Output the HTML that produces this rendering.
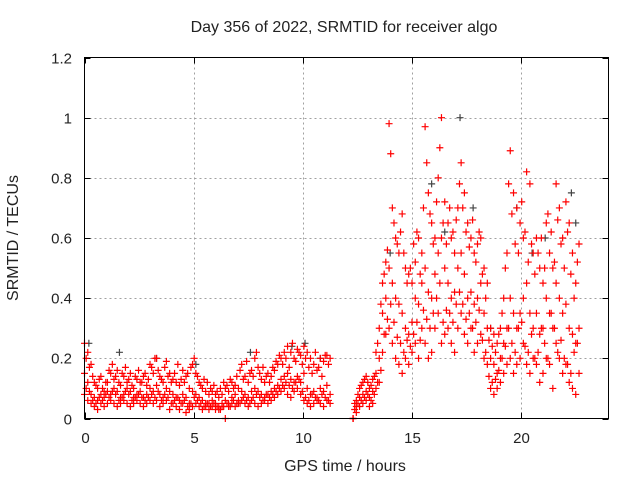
<!DOCTYPE html>
<html><head><meta charset="utf-8"><style>
body{margin:0;background:#fff}
svg{display:block}
text{font-family:"Liberation Sans",sans-serif;font-size:15px;fill:#222}
.big{font-size:16px}
</style></head><body>
<svg id="chart" width="640" height="480">
<text class="big" x="344" y="32" text-anchor="middle">Day 356 of 2022, SRMTID for receiver algo</text>
<text class="big" x="345" y="471" text-anchor="middle">GPS time / hours</text>
<text class="big" transform="translate(18,238) rotate(-90)" text-anchor="middle">SRMTID / TECUs</text>
<g id="grid"></g>
<g id="ticks"></g>
<g id="gray"></g>
<g id="red"></g>
<rect x="84.5" y="57.5" width="524" height="361" fill="none" stroke="#000" stroke-width="1"/>
</svg>
<script>
const xTicks=[0,5,10,15,20];
const yTicks=[0,0.2,0.4,0.6,0.8,1,1.2];
const yTickLabels=["0","0.2","0.4","0.6","0.8","1","1.2"];
const hours=[0,0.15,0.3,0.45,0.6,0.75,0.9,1.05,1.2,1.35,1.5,1.65,1.8,1.95,2.1,2.25,2.4,2.55,2.7,2.85,3,3.15,3.3,3.45,3.6,3.75,3.9,4.05,4.2,4.35,4.5,4.65,4.8,4.95,5.1,5.25,5.4,5.55,5.7,5.85,6,6.15,6.3,6.45,6.6,6.75,6.9,7.05,7.2,7.35,7.5,7.65,7.8,7.95,8.1,8.25,8.4,8.55,8.7,8.85,9,9.15,9.3,9.45,9.6,9.75,9.9,10.05,10.2,10.35,10.5,10.65,10.8,10.95,11.1,11.25,
12.3,12.45,12.6,12.75,12.9,13.05,13.2,13.35,13.5,13.65,13.8,13.95,14.1,14.25,14.4,14.55,14.7,14.85,15,15.15,15.3,15.45,15.6,15.75,15.9,16.05,16.2,16.35,16.5,16.65,16.8,16.95,17.1,17.25,17.4,17.55,17.7,17.85,18,18.15,18.3,18.45,18.6,18.75,18.9,19.05,19.2,19.35,19.5,19.65,19.8,19.95,20.1,20.25,20.4,20.55,20.7,20.85,21,21.15,21.3,21.45,21.6,21.75,21.9,22.05,22.2,22.35,22.5,22.65];
const redHigh=[0.25,0.22,0.18,0.12,0.10,0.14,0.09,0.12,0.15,0.13,0.16,0.11,0.14,0.12,0.15,0.10,0.13,0.12,0.14,0.11,0.18,0.15,0.20,0.14,0.12,0.19,0.15,0.13,0.12,0.11,0.16,0.14,0.10,0.18,0.15,0.12,0.10,0.09,0.08,0.09,0.08,0.07,0.08,0.10,0.09,0.12,0.11,0.10,0.18,0.14,0.12,0.16,0.20,0.17,0.13,0.12,0.15,0.14,0.16,0.18,0.20,0.22,0.24,0.22,0.20,0.23,0.21,0.24,0.22,0.20,0.18,0.16,0.20,0.19,0.21,0.20,
0.00,0.06,0.10,0.12,0.14,0.10,0.13,0.22,0.30,0.45,0.52,0.98,0.70,0.60,0.55,0.68,0.50,0.48,0.45,0.52,0.60,0.55,0.97,0.75,0.65,0.60,0.80,1.00,0.72,0.65,0.60,0.55,0.70,0.85,0.75,0.65,0.60,0.55,0.58,0.60,0.50,0.45,0.30,0.28,0.25,0.30,0.40,0.55,0.89,0.75,0.70,0.65,0.60,0.82,0.78,0.55,0.60,0.50,0.45,0.65,0.55,0.50,0.78,0.70,0.60,0.72,0.65,0.55,0.45,0.58];
const redMid=[0.15,0.12,0.08,0.07,0.06,0.08,0.07,0.09,0.08,0.10,0.09,0.07,0.08,0.10,0.09,0.07,0.08,0.09,0.07,0.08,0.10,0.09,0.11,0.08,0.07,0.10,0.09,0.08,0.07,0.06,0.08,0.07,0.05,0.09,0.08,0.07,0.06,0.05,0.05,0.06,0.05,0.04,0.05,0.06,0.05,0.07,0.08,0.06,0.09,0.08,0.07,0.09,0.10,0.09,0.08,0.07,0.08,0.09,0.10,0.11,0.13,0.14,0.15,0.13,0.12,0.14,0.12,0.15,0.10,0.08,0.09,0.07,0.10,0.09,0.11,0.08,
0.00,0.04,0.07,0.08,0.09,0.07,0.09,0.15,0.20,0.35,0.40,0.50,0.45,0.40,0.38,0.35,0.30,0.28,0.32,0.40,0.38,0.45,0.50,0.42,0.40,0.48,0.55,0.60,0.50,0.45,0.40,0.42,0.50,0.55,0.48,0.40,0.42,0.38,0.40,0.45,0.35,0.30,0.20,0.18,0.15,0.20,0.25,0.30,0.40,0.35,0.30,0.35,0.40,0.45,0.35,0.30,0.35,0.28,0.30,0.40,0.35,0.30,0.45,0.40,0.35,0.38,0.30,0.28,0.25,0.30];
const redLow=[0.08,0.06,0.05,0.04,0.03,0.05,0.04,0.05,0.06,0.05,0.04,0.05,0.06,0.05,0.04,0.05,0.06,0.05,0.04,0.05,0.06,0.05,0.06,0.04,0.05,0.06,0.03,0.05,0.04,0.03,0.05,0.02,0.03,0.04,0.05,0.04,0.03,0.04,0.03,0.04,0.03,0.03,0.04,0.00,0.04,0.05,0.04,0.05,0.06,0.05,0.04,0.06,0.05,0.04,0.05,0.06,0.05,0.06,0.07,0.08,0.09,0.10,0.08,0.07,0.09,0.10,0.08,0.06,0.05,0.04,0.05,0.06,0.05,0.04,0.06,0.05,
0.00,0.02,0.04,0.05,0.06,0.04,0.05,0.10,0.12,0.22,0.28,0.30,0.25,0.20,0.18,0.15,0.20,0.18,0.22,0.25,0.20,0.30,0.25,0.20,0.22,0.30,0.35,0.25,0.28,0.30,0.25,0.22,0.30,0.35,0.28,0.25,0.30,0.22,0.25,0.28,0.20,0.18,0.10,0.08,0.10,0.12,0.15,0.18,0.20,0.15,0.18,0.20,0.25,0.18,0.15,0.20,0.18,0.12,0.15,0.20,0.18,0.10,0.25,0.20,0.15,0.18,0.12,0.10,0.08,0.15];
const hours2=[0.075,0.225,0.375,0.525,0.675,0.825,0.975,1.125,1.275,1.425,1.575,1.725,1.875,2.025,2.175,2.325,2.475,2.625,2.775,2.925,3.075,3.225,3.375,3.525,3.675,3.825,3.975,4.125,4.275,4.425,4.575,4.725,4.875,5.025,5.175,5.325,5.475,5.625,5.775,5.925,6.075,6.225,6.375,6.525,6.675,6.825,6.975,7.125,7.275,7.425,7.575,7.725,7.875,8.025,8.175,8.325,8.475,8.625,8.775,8.925,9.075,9.225,9.375,9.525,9.675,9.825,9.975,10.125,10.275,10.425,10.575,10.725,10.875,11.025,11.175,
12.375,12.525,12.675,12.825,12.975,13.125,13.275,13.425,13.575,13.725,13.875,14.025,14.175,14.325,14.475,14.625,14.775,14.925,15.075,15.225,15.375,15.525,15.675,15.825,15.975,16.125,16.275,16.425,16.575,16.725,16.875,17.025,17.175,17.325,17.475,17.625,17.775,17.925,18.075,18.225,18.375,18.525,18.675,18.825,18.975,19.125,19.275,19.425,19.575,19.725,19.875,20.025,20.175,20.325,20.475,20.625,20.775,20.925,21.075,21.225,21.375,21.525,21.675,21.825,21.975,22.125,22.275,22.425,22.575];
const redUpper2=[0.20,0.17,0.14,0.11,0.13,0.10,0.12,0.16,0.18,0.14,0.12,0.15,0.17,0.13,0.11,0.14,0.16,0.12,0.15,0.13,0.17,0.20,0.16,0.13,0.17,0.14,0.12,0.15,0.18,0.13,0.12,0.15,0.17,0.20,0.14,0.11,0.13,0.12,0.10,0.11,0.09,0.10,0.12,0.11,0.13,0.10,0.14,0.16,0.13,0.19,0.15,0.14,0.22,0.15,0.17,0.14,0.12,0.17,0.19,0.21,0.18,0.20,0.17,0.25,0.19,0.22,0.18,0.20,0.17,0.15,0.22,0.17,0.14,0.21,0.18,
0.05,0.08,0.11,0.13,0.12,0.11,0.14,0.25,0.38,0.48,0.56,0.88,0.65,0.58,0.62,0.55,0.45,0.50,0.58,0.62,0.48,0.70,0.85,0.68,0.58,0.72,0.90,0.65,0.58,0.70,0.62,0.66,0.78,0.70,0.62,0.57,0.66,0.52,0.62,0.48,0.40,0.26,0.24,0.22,0.28,0.35,0.50,0.78,0.68,0.58,0.55,0.72,0.62,0.52,0.58,0.48,0.55,0.60,0.50,0.68,0.62,0.52,0.66,0.58,0.50,0.62,0.48,0.40,0.52];
const redLower2=[0.10,0.09,0.06,0.05,0.07,0.06,0.08,0.07,0.09,0.08,0.06,0.07,0.09,0.08,0.06,0.07,0.08,0.07,0.06,0.07,0.08,0.07,0.09,0.06,0.08,0.07,0.05,0.06,0.07,0.05,0.06,0.04,0.05,0.07,0.06,0.05,0.04,0.05,0.04,0.05,0.04,0.03,0.04,0.05,0.04,0.06,0.05,0.05,0.07,0.06,0.05,0.07,0.08,0.07,0.06,0.08,0.07,0.08,0.09,0.10,0.11,0.12,0.11,0.10,0.12,0.13,0.09,0.07,0.06,0.08,0.07,0.06,0.08,0.07,0.06,
0.03,0.05,0.06,0.07,0.08,0.06,0.08,0.12,0.16,0.28,0.33,0.38,0.32,0.27,0.25,0.22,0.26,0.24,0.28,0.32,0.26,0.36,0.33,0.30,0.35,0.40,0.45,0.32,0.36,0.35,0.32,0.38,0.42,0.38,0.33,0.35,0.30,0.32,0.36,0.26,0.22,0.14,0.12,0.13,0.16,0.20,0.24,0.30,0.25,0.22,0.30,0.32,0.24,0.22,0.28,0.20,0.22,0.30,0.25,0.20,0.35,0.30,0.22,0.26,0.20,0.18,0.15,0.22,0.25];
const grayHours=[0.2,1.6,3.3,5.1,7.6,9.5,10.1,10.8,14.0,15.9,16.5,17.2,17.8,18.6,19.8,20.5,21.1,22.3,22.5];
const grayVals=[0.25,0.22,0.20,0.18,0.22,0.24,0.25,0.20,0.55,0.78,0.62,1.00,0.70,0.30,0.70,0.55,0.60,0.75,0.65];
const NS="http://www.w3.org/2000/svg";
const X0=84.5,X1=608.5,Y0=418.5,Y1=57.5;
const xs=h=>X0+(X1-X0)*h/24;
const ys=v=>Y0-(Y0-Y1)*v/1.2;
function mk(tag,attrs,parent){const e=document.createElementNS(NS,tag);for(const k in attrs)e.setAttribute(k,attrs[k]);parent.appendChild(e);return e;}
const grid=document.getElementById('grid'),ticks=document.getElementById('ticks');
xTicks.forEach(t=>{
  const x=Math.round(xs(t))+0.5;
  if(t>0){const g=mk('line',{x1:x,x2:x,y1:Y1,y2:Y0,stroke:'#a0a0a0','stroke-dasharray':'2,3'},grid);
  
  }
  mk('line',{x1:x,x2:x,y1:Y0,y2:Y0-6,stroke:'#000'},ticks);
  mk('line',{x1:x,x2:x,y1:Y1,y2:Y1+6,stroke:'#000'},ticks);
  const l=mk('text',{x:x,y:443,'text-anchor':'middle'},ticks);l.textContent=t;
  
  
});
yTicks.forEach((t,i)=>{
  const y=Math.round(ys(t))+0.5;
  if(t>0&&t<1.2){const g=mk('line',{x1:X0,x2:X1,y1:y,y2:y,stroke:'#a0a0a0','stroke-dasharray':'2,3'},grid);
  
  }
  mk('line',{x1:X0,x2:X0+6,y1:y,y2:y,stroke:'#000'},ticks);
  mk('line',{x1:X1,x2:X1-6,y1:y,y2:y,stroke:'#000'},ticks);
  const l=mk('text',{x:72,y:y+5,'text-anchor':'end'},ticks);l.textContent=yTickLabels[i];
  
  
});
function plus(parent,h,v,col,name){
  const x=xs(h),y=ys(v);
  const p=mk('path',{d:`M${x-3.5},${y}H${x+3.5}M${x},${y-3.5}V${y+3.5}`,stroke:col,'stroke-width':1.2,fill:'none'},parent);
  
  
}
const gray=document.getElementById('gray'),red=document.getElementById('red');
grayHours.forEach((h,i)=>plus(gray,h,grayVals[i],'#444','gray-point'));
[redHigh,redMid,redLow].forEach(arr=>hours.forEach((h,i)=>{if(arr[i]!==undefined)plus(red,h,arr[i],'#ff0000','red-point');}));
[redUpper2,redLower2].forEach(arr=>hours2.forEach((h,i)=>{if(arr[i]!==undefined)plus(red,h,arr[i],'#ff0000','red-point');}));
</script>
</body></html>
